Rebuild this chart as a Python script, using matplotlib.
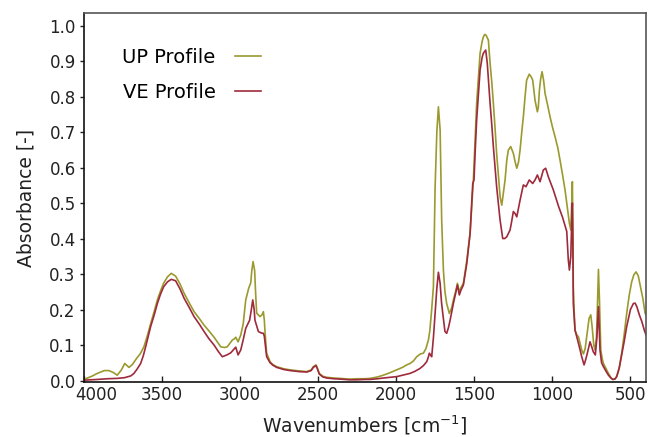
# FTIR-spectra van UP en VE profiel (absorbantie tegen golfgetal).

import matplotlib
matplotlib.use('Agg')
import matplotlib.pyplot as plt
import matplotlib.transforms as mtransforms

up_wn = [4000, 3950, 3915, 3870, 3840, 3810, 3787, 3760, 3739, 3712, 3690, 3662, 3640, 3616,
         3595, 3573, 3550, 3530, 3510, 3490, 3465, 3441, 3413, 3385, 3359, 3325, 3295, 3260,
         3231, 3200, 3167, 3140, 3124, 3100, 3082, 3065, 3050, 3035, 3028, 3013, 2996, 2980,
         2964, 2945, 2932, 2925, 2917, 2907, 2900, 2894, 2873, 2860, 2851, 2845, 2840, 2830,
         2808, 2790, 2766, 2720, 2680, 2620, 2573, 2545, 2531, 2514, 2505, 2493, 2470, 2445,
         2400, 2360, 2300, 2253, 2200, 2168, 2120, 2083, 2040, 1997, 1960, 1933, 1912, 1890,
         1869, 1845, 1826, 1810, 1794, 1785, 1773, 1762, 1751, 1740, 1730, 1719, 1709, 1698,
         1688, 1677, 1660, 1645, 1634, 1620, 1608, 1596, 1585, 1570, 1548, 1527, 1506, 1495,
         1485, 1473, 1463, 1450, 1442, 1433, 1425, 1410, 1399, 1388, 1378, 1367, 1357, 1345,
         1335, 1324, 1313, 1303, 1292, 1282, 1267, 1250, 1238, 1228, 1217, 1207, 1196, 1186,
         1175, 1165, 1148, 1135, 1126, 1111, 1096, 1090, 1083, 1075, 1066, 1056, 1047, 1030,
         1015, 1000, 983, 965, 951, 935, 919, 905, 891, 882, 876, 872, 869, 866, 860, 855,
         845, 833, 820, 812, 801, 790, 775, 765, 754, 745, 735, 727, 718, 712, 705, 698,
         690, 680, 673, 655, 641, 625, 613, 600, 588, 572, 556, 540, 524, 508, 492, 478,
         464, 450, 438, 420, 406, 400]
up_abs = [0.003, 0.012, 0.020, 0.028, 0.028, 0.022, 0.015, 0.030, 0.048, 0.037, 0.045, 0.063, 0.075, 0.095,
          0.125, 0.160, 0.195, 0.227, 0.252, 0.274, 0.292, 0.302, 0.294, 0.272, 0.246, 0.218, 0.194, 0.174,
          0.156, 0.140, 0.122, 0.105, 0.095, 0.093, 0.095, 0.105, 0.114, 0.118, 0.122, 0.109, 0.128, 0.160,
          0.227, 0.260, 0.275, 0.310, 0.335, 0.310, 0.240, 0.190, 0.180, 0.185, 0.194, 0.170, 0.134, 0.077,
          0.053, 0.045, 0.039, 0.033, 0.030, 0.027, 0.025, 0.030, 0.039, 0.044, 0.035, 0.020, 0.012, 0.009,
          0.007, 0.006, 0.004, 0.005, 0.005, 0.006, 0.010, 0.015, 0.022, 0.030, 0.037, 0.044, 0.048, 0.055,
          0.067, 0.075, 0.077, 0.090, 0.114, 0.140, 0.200, 0.264, 0.546, 0.700, 0.771, 0.706, 0.452, 0.311,
          0.250, 0.217, 0.189, 0.205, 0.227, 0.250, 0.274, 0.250, 0.262, 0.274, 0.339, 0.415, 0.565, 0.680,
          0.781, 0.860, 0.922, 0.955, 0.968, 0.975, 0.973, 0.959, 0.894, 0.840, 0.781, 0.710, 0.640, 0.575,
          0.518, 0.494, 0.530, 0.565, 0.621, 0.649, 0.659, 0.640, 0.615, 0.598, 0.615, 0.649, 0.700, 0.743,
          0.800, 0.846, 0.863, 0.855, 0.846, 0.789, 0.757, 0.770, 0.818, 0.850, 0.870, 0.845, 0.809, 0.775,
          0.743, 0.715, 0.687, 0.655, 0.621, 0.580, 0.537, 0.490, 0.443, 0.424, 0.500, 0.560, 0.450, 0.264, 0.190, 0.142,
          0.130, 0.123, 0.100, 0.086, 0.075, 0.090, 0.140, 0.175, 0.185, 0.150, 0.100, 0.086, 0.120, 0.200, 0.313, 0.220,
          0.086, 0.060, 0.048, 0.032, 0.020, 0.008, 0.003, 0.004, 0.011, 0.035, 0.077, 0.130, 0.189, 0.240, 0.278, 0.298,
          0.306, 0.295, 0.269, 0.230, 0.189, 0.185]

ve_wn = [4000, 3950, 3915, 3850, 3787, 3740, 3700, 3680, 3660, 3637, 3620, 3605, 3590, 3573,
         3550, 3530, 3510, 3490, 3465, 3441, 3413, 3385, 3359, 3325, 3295, 3260, 3231, 3200,
         3167, 3140, 3114, 3085, 3060, 3040, 3028, 3013, 2996, 2980, 2964, 2950, 2939, 2928,
         2919, 2910, 2905, 2883, 2865, 2851, 2845, 2840, 2830, 2808, 2790, 2766, 2720, 2680,
         2620, 2573, 2545, 2531, 2514, 2505, 2493, 2470, 2445, 2400, 2360, 2300, 2253, 2200,
         2168, 2120, 2083, 2040, 1997, 1960, 1912, 1880, 1848, 1826, 1805, 1795, 1788, 1780,
         1773, 1762, 1751, 1740, 1730, 1719, 1710, 1702, 1688, 1677, 1665, 1655, 1634, 1620,
         1608, 1596, 1585, 1570, 1548, 1527, 1510, 1502, 1495, 1485, 1473, 1463, 1450, 1442,
         1427, 1417, 1399, 1388, 1378, 1357, 1335, 1318, 1305, 1292, 1271, 1260, 1250, 1238,
         1228, 1207, 1186, 1169, 1148, 1126, 1111, 1096, 1079, 1058, 1043, 1026, 994, 960,
         935, 908, 898, 891, 882, 876, 872, 869, 866, 855, 833, 812, 797, 786, 776, 759,
         748, 738, 725, 715, 705, 695, 685, 673, 655, 641, 625, 613, 600, 588, 572, 556,
         540, 524, 500, 481, 470, 459, 443, 427, 410, 400]
ve_abs = [0.001, 0.002, 0.003, 0.005, 0.006, 0.008, 0.013, 0.020, 0.032, 0.048, 0.070, 0.095, 0.122, 0.152,
          0.185, 0.217, 0.243, 0.264, 0.278, 0.285, 0.281, 0.258, 0.232, 0.205, 0.180, 0.158, 0.138, 0.118,
          0.100, 0.082, 0.067, 0.072, 0.078, 0.088, 0.094, 0.072, 0.086, 0.115, 0.147, 0.160, 0.170, 0.200,
          0.227, 0.200, 0.170, 0.138, 0.134, 0.133, 0.125, 0.106, 0.067, 0.050, 0.043, 0.037, 0.031, 0.028,
          0.025, 0.024, 0.028, 0.037, 0.042, 0.033, 0.018, 0.010, 0.007, 0.005, 0.004, 0.002, 0.002, 0.003,
          0.003, 0.005, 0.007, 0.009, 0.011, 0.015, 0.020, 0.026, 0.034, 0.042, 0.053, 0.065, 0.077, 0.072,
          0.067, 0.120, 0.189, 0.260, 0.305, 0.274, 0.220, 0.189, 0.138, 0.133, 0.150, 0.170, 0.217, 0.245,
          0.269, 0.241, 0.255, 0.269, 0.330, 0.415, 0.555, 0.565, 0.640, 0.734, 0.810, 0.875, 0.910, 0.922,
          0.931, 0.894, 0.781, 0.720, 0.659, 0.546, 0.452, 0.400, 0.400, 0.405, 0.424, 0.450, 0.476, 0.470,
          0.461, 0.508, 0.551, 0.546, 0.565, 0.555, 0.565, 0.579, 0.560, 0.593, 0.598, 0.574, 0.537, 0.490,
          0.460, 0.420, 0.340, 0.311, 0.350, 0.450, 0.500, 0.400, 0.217, 0.142, 0.105, 0.067, 0.044, 0.060, 0.077, 0.109,
          0.095, 0.081, 0.072, 0.120, 0.208, 0.086, 0.050, 0.039, 0.025, 0.015, 0.007, 0.003, 0.004, 0.011, 0.035, 0.072,
          0.110, 0.152, 0.200, 0.217, 0.218, 0.208, 0.185, 0.166, 0.140, 0.128]

labels = ['UP Profile', 'VE Profile']
kleuren = ['#9a9a2e', '#9e2a3c']

plt.rcParams['font.family'] = 'DejaVu Sans'

fig = plt.figure(figsize=(6.48, 4.37), dpi=100)
ax = fig.add_axes([0.1296, 0.126, 0.8674, 0.844])

ax.plot(up_wn, up_abs, color=kleuren[0], lw=1.2, label=labels[0])
ax.plot(ve_wn, ve_abs, color=kleuren[1], lw=1.2, label=labels[1])

ax.set_xlim(4000, 400)
ax.set_ylim(-0.004, 1.035)
ax.set_xticks([4000, 3500, 3000, 2500, 2000, 1500, 1000, 500])
ax.set_yticks([0.0, 0.1, 0.2, 0.3, 0.4, 0.5, 0.6, 0.7, 0.8, 0.9, 1.0])
ax.set_yticklabels(['0.0', '0.1', '0.2', '0.3', '0.4', '0.5', '0.6', '0.7', '0.8', '0.9', '1.0'])

ax.tick_params(axis='x', direction='in', length=4, width=1, pad=3, labelsize=12, colors='#222222')
ax.tick_params(axis='y', direction='out', length=3, width=1, pad=3, labelsize=12, colors='#222222')

# Label 4000 staat in het origineel iets naar rechts, weg van 0.0.
eerste = ax.get_xticklabels()[0]
eerste.set_transform(eerste.get_transform() + mtransforms.ScaledTranslation(0.12, 0, fig.dpi_scale_trans))

ax.spines['left'].set_color('#111111')
ax.spines['bottom'].set_color('#111111')
ax.spines['top'].set_color('#555555')
ax.spines['right'].set_color('#555555')
for s in ax.spines.values():
    s.set_linewidth(1.2)

ax.set_xlabel('Wavenumbers [cm$^{-1}$]', fontsize=13.5, color='#222222', labelpad=7)
ax.set_ylabel('Absorbance [-]', fontsize=13.5, color='#222222', labelpad=10)

ax.legend(loc='upper left', bbox_to_anchor=(0.068, 0.905), frameon=False, markerfirst=False,
          fontsize=14, handlelength=1.35, handletextpad=1.0, labelspacing=0.8,
          borderaxespad=0, borderpad=0)

fig.savefig('out.png', dpi=100)
